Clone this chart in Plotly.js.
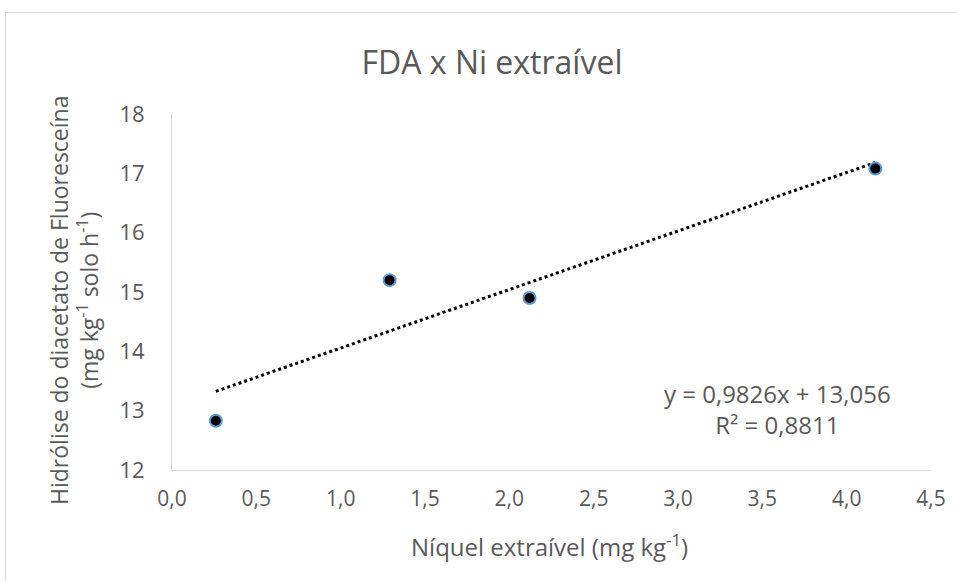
<!DOCTYPE html>
<html>
<head>
<meta charset="utf-8">
<script src="https://cdn.plot.ly/plotly-3.0.1.min.js"></script>
<style>
  html, body { margin: 0; padding: 0; background: #fff; }
  #frame { position: absolute; left: 5px; top: 12px; width: 960px; height: 575px; border: 1px solid #d9d9d9; box-sizing: border-box; }
  #chart { position: absolute; left: 0; top: 0; width: 957px; height: 581px; }
</style>
</head>
<body>
<div id="frame"></div>
<div id="chart"></div>
<script>
// Data
const niquel = [0.26, 1.29, 2.12, 4.17];          // Níquel extraível (mg kg-1)
const fda = [12.83, 15.20, 14.90, 17.08];          // Hidrólise do diacetato de Fluoresceína
const xTickVals = [0, 0.5, 1, 1.5, 2, 2.5, 3, 3.5, 4, 4.5];
const xTickText = ["0,0", "0,5", "1,0", "1,5", "2,0", "2,5", "3,0", "3,5", "4,0", "4,5"];
const yTickVals = [12, 13, 14, 15, 16, 17, 18];
const equationText = "y = 0,9826x + 13,056";
const r2Text = "R² = 0,8811";

// Linear least-squares trendline over the data range
const n = niquel.length;
const mx = niquel.reduce((a, b) => a + b, 0) / n;
const my = fda.reduce((a, b) => a + b, 0) / n;
let sxy = 0, sxx = 0;
for (let i = 0; i < n; i++) { sxy += (niquel[i] - mx) * (fda[i] - my); sxx += (niquel[i] - mx) ** 2; }
const slope = sxy / sxx, intercept = my - slope * mx;
const xMin = Math.min(...niquel), xMax = Math.max(...niquel);
const trendX = [xMin, xMax];
const trendY = trendX.map(x => slope * x + intercept);

const FONT = "'Open Sans', sans-serif";
const GREY = "#595959";

const traces = [
  {
    x: trendX, y: trendY, type: "scatter", mode: "lines",
    line: { color: "#000000", width: 3, dash: "dot" },
    hoverinfo: "skip", showlegend: false
  },
  {
    x: niquel, y: fda, type: "scatter", mode: "markers",
    marker: { size: 12, color: "#000000", line: { color: "#5B9BD5", width: 2 } },
    showlegend: false
  }
];

const layout = {
  width: 957, height: 581,
  margin: { l: 172, r: 26, t: 114, b: 111 },
  paper_bgcolor: "rgba(0,0,0,0)",
  plot_bgcolor: "rgba(0,0,0,0)",
  font: { family: FONT, color: GREY, size: 20 },
  title: {
    text: "FDA x Ni extraível",
    font: { family: FONT, size: 32, color: GREY },
    x: 492 / 957, xref: "container", xanchor: "center",
    y: 1 - 63 / 581, yref: "container", yanchor: "middle"
  },
  xaxis: {
    range: [0, 4.5], tickvals: xTickVals, ticktext: xTickText,
    showgrid: false, zeroline: false, showline: true, linecolor: "#d9d9d9", linewidth: 1,
    ticks: "outside", ticklen: 10, tickcolor: "rgba(0,0,0,0)",
    tickfont: { size: 21, color: GREY, family: FONT }
  },
  yaxis: {
    range: [12, 18], tickvals: yTickVals,
    showgrid: false, zeroline: false, showline: true, linecolor: "#d9d9d9", linewidth: 1,
    ticks: "outside", ticklen: 22, tickcolor: "rgba(0,0,0,0)",
    tickfont: { size: 22, color: GREY, family: FONT }
  },
  annotations: [
    {
      text: "Hidrólise do diacetato de Fluoresceína<br>(mg kg<sup>-1</sup> solo h<sup>-1</sup>)",
      xref: "paper", yref: "paper", x: (74 - 172) / 759, y: (470 - 301) / 356,
      xanchor: "center", yanchor: "middle", textangle: -90, showarrow: false,
      font: { size: 23, color: GREY, family: FONT }
    },
    {
      text: "Níquel extraível (mg kg<sup>-1</sup>)",
      xref: "paper", yref: "paper", x: (549 - 172) / 759, y: (470 - 545) / 356,
      xanchor: "center", yanchor: "middle", showarrow: false,
      font: { size: 24, color: GREY, family: FONT }
    },
    {
      text: equationText + "<br>" + r2Text,
      xref: "paper", yref: "paper", x: (777 - 172) / 759, y: (470 - 409) / 356,
      xanchor: "center", yanchor: "middle", align: "center", showarrow: false,
      font: { size: 24, color: GREY, family: FONT }
    }
  ]
};

Plotly.newPlot("chart", traces, layout, { displayModeBar: false, staticPlot: true });
</script>
</body>
</html>
